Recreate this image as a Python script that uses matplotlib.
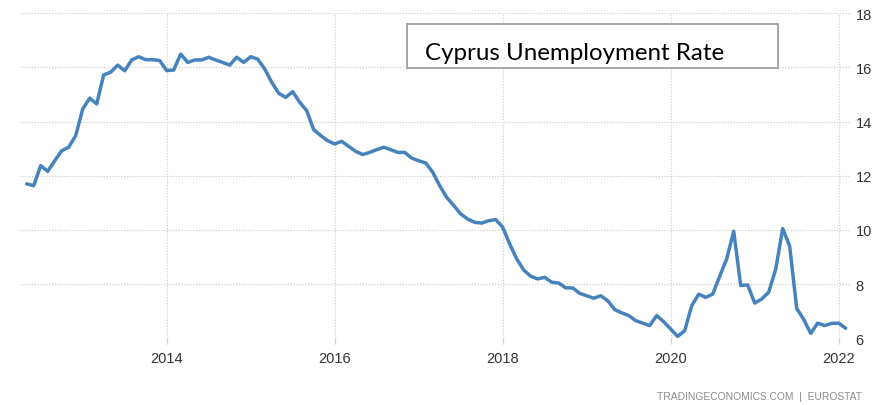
import numpy as np
import matplotlib
matplotlib.use("Agg")
from matplotlib import pyplot as plt
from matplotlib.patches import Rectangle

# monthly rate, first point May 2012
start_year, start_month = 2012, 5
rate = [
    11.70, 11.63, 12.37, 12.16, 12.55, 12.92, 13.05, 13.48,                  # 2012
    14.46, 14.86, 14.65, 15.72, 15.82, 16.08, 15.87, 16.27, 16.39, 16.28, 16.28, 16.25,  # 2013
    15.88, 15.90, 16.49, 16.18, 16.27, 16.27, 16.37, 16.27, 16.18, 16.08, 16.37, 16.18,  # 2014
    16.39, 16.30, 15.94, 15.45, 15.04, 14.89, 15.10, 14.71, 14.40, 13.70, 13.48, 13.29,  # 2015
    13.17, 13.27, 13.08, 12.90, 12.78, 12.86, 12.96, 13.05, 12.96, 12.86, 12.86, 12.65,  # 2016
    12.55, 12.47, 12.13, 11.63, 11.20, 10.90, 10.59, 10.40, 10.28, 10.25, 10.34, 10.38,  # 2017
    10.10, 9.48, 8.93, 8.52, 8.29, 8.19, 8.25, 8.07, 8.04, 7.86, 7.86, 7.66,            # 2018
    7.57, 7.48, 7.57, 7.39, 7.06, 6.94, 6.84, 6.65, 6.56, 6.47, 6.84, 6.61,             # 2019
    6.34, 6.07, 6.28, 7.20, 7.63, 7.51, 7.63, 8.29, 8.93, 9.95, 7.95, 7.97,             # 2020
    7.30, 7.45, 7.70, 8.55, 10.05, 9.40, 7.10, 6.70, 6.18, 6.56, 6.47, 6.55,            # 2021
    6.56, 6.37,                                                                         # 2022
]
year_ticks = [2014, 2016, 2018, 2020, 2022]
rate_ticks = [6, 8, 10, 12, 14, 16, 18]
title = "Cyprus Unemployment Rate"
source = "TRADINGECONOMICS.COM  |  EUROSTAT"

x = start_year + (start_month - 1) / 12 + np.arange(len(rate)) / 12

W, H = 883, 406
fig = plt.figure(figsize=(W / 100, H / 100), dpi=100)
ax = fig.add_axes([20 / W, 1 - 339.3 / H, 830 / W, (339.3 - 14.1) / H])

ax.plot(x, rate, color="#4683bd", lw=2.5, solid_joinstyle="round",
        solid_capstyle="round", zorder=3)

ax.set_xlim(2012.2536, 2022.1345)
ax.set_ylim(6, 18)
ax.set_xticks(year_ticks)
ax.set_xticklabels([str(y) for y in year_ticks])
ax.set_yticks(rate_ticks)

grid_kw = dict(color="#cfcfcf", lw=0.9, linestyle=(0, (1, 1.3)))
ax.grid(True, **grid_kw)
for s in ax.spines.values():
    s.set_visible(False)

ax.yaxis.tick_right()
ax.tick_params(axis="y", length=0, pad=4, labelsize=10.5, labelcolor="#333333")
ax.tick_params(axis="x", length=4, width=0.9, color="#cfcfcf", pad=5,
               labelsize=10.5, labelcolor="#333333")
for lab in ax.get_xticklabels() + ax.get_yticklabels():
    lab.set_family("Liberation Sans")

# title box
box = Rectangle((407.3 / W, 1 - 69.3 / H), 371 / W, 44.3 / H,
                transform=fig.transFigure, facecolor="white",
                edgecolor="#a6a6a6", lw=1.4, zorder=5)
fig.add_artist(box)
fig.text(425 / W, 1 - 60 / H, title, family="Lato", fontsize=17.4,
         color="black", va="baseline", ha="left", zorder=6)

fig.text(862 / W, 1 - 397 / H, source, family="Liberation Sans", fontsize=7.4,
         color="#8c8c8c", ha="right", va="center")

fig.savefig("out.png", dpi=100)
